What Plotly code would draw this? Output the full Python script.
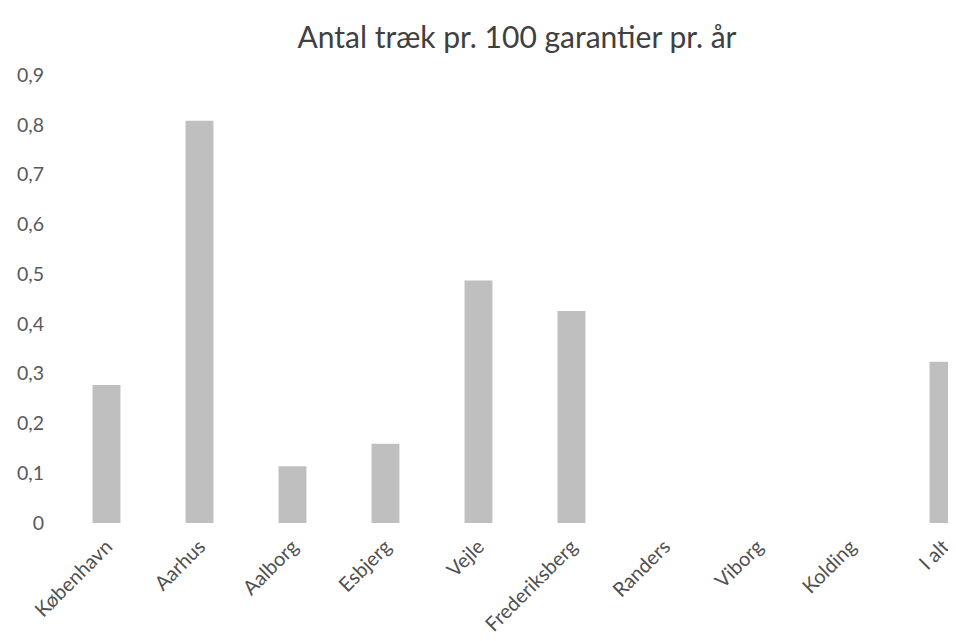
import plotly.graph_objects as go

# Data
byer = ["København", "Aarhus", "Aalborg", "Esbjerg", "Vejle",
        "Frederiksberg", "Randers", "Viborg", "Kolding", "I alt"]
traek = [0.277, 0.808, 0.114, 0.159, 0.487, 0.426, 0, 0, 0, 0.324]
y_ticks = [0, 0.1, 0.2, 0.3, 0.4, 0.5, 0.6, 0.7, 0.8, 0.9]
y_labels = ["0", "0,1", "0,2", "0,3", "0,4", "0,5", "0,6", "0,7", "0,8", "0,9"]

FONT = "Lato, Carlito, Calibri, sans-serif"

fig = go.Figure()

fig.add_trace(
    go.Bar(
        x=byer,
        y=traek,
        marker=dict(color="#bfbfbf", line=dict(width=0)),
        hoverinfo="x+y"
    )
)

# siden har 8px body-margin, så figuren er gjort tilsvarende mindre
fig.update_layout(
    width=948,
    height=633,
    margin=dict(l=52, r=0, t=67, b=118),
    paper_bgcolor="white",
    plot_bgcolor="white",
    bargap=0.7,
    showlegend=False,
    font=dict(family=FONT, color="#595959"),
    title=dict(
        text="Antal træk pr. 100 garantier pr. år",
        font=dict(family=FONT, size=30, color="#404040"),
        x=0.537,
        xref="container",
        xanchor="center",
        y=0.953,
        yref="container",
        yanchor="middle"
    ),
    xaxis=dict(
        range=[-0.5, 9.135],
        showgrid=False,
        showline=False,
        zeroline=False,
        ticks="",
        tickangle=-45,
        ticklabelstandoff=7,
        tickfont=dict(family=FONT, size=20, color="#505050"),
        fixedrange=True
    ),
    yaxis=dict(
        range=[0, 0.9],
        tickvals=y_ticks,
        ticktext=y_labels,
        showgrid=False,
        showline=False,
        zeroline=False,
        ticks="",
        ticklabelstandoff=15,
        tickfont=dict(family=FONT, size=19.5, color="#595959"),
        fixedrange=True
    )
)

fig.write_html("out.html")
